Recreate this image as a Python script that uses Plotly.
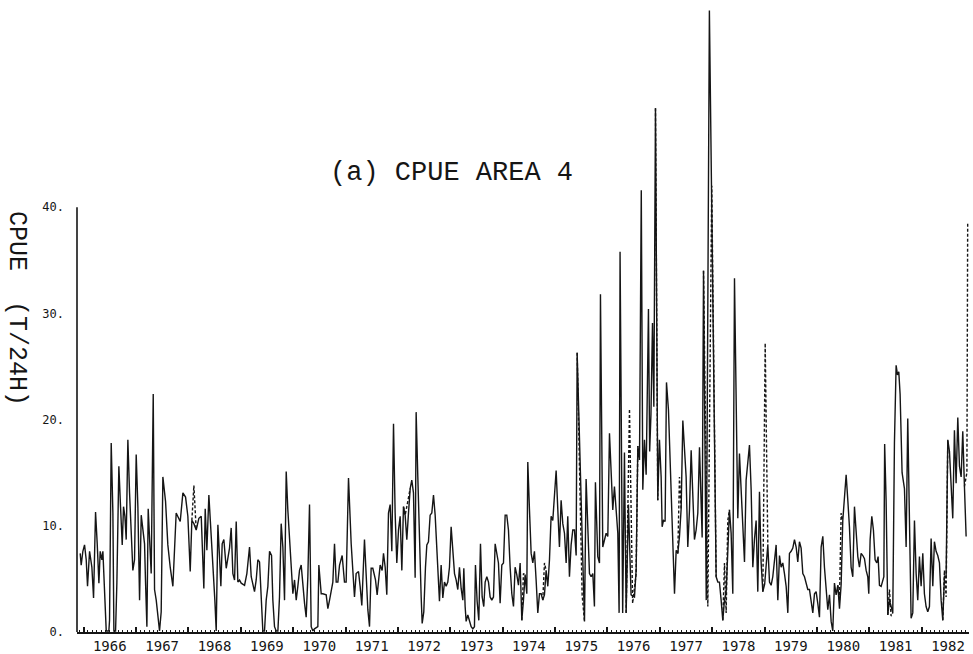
import plotly.graph_objects as go

# Catch per unit effort, area 4: observed series (solid line)
t_solid = [
    1965.936, 1965.955, 1965.987, 1966.019, 1966.051, 1966.076, 1966.115, 1966.159, 1966.191, 1966.229,
    1966.261, 1966.293, 1966.318, 1966.350, 1966.369, 1966.401, 1966.433, 1966.483, 1966.496, 1966.528,
    1966.560, 1966.579, 1966.611, 1966.636, 1966.674, 1966.706, 1966.738, 1966.763, 1966.789, 1966.814,
    1966.846, 1966.878, 1966.910, 1966.941, 1966.973, 1967.005, 1967.037, 1967.069, 1967.101, 1967.132,
    1967.164, 1967.183, 1967.209, 1967.234, 1967.260, 1967.291, 1967.330, 1967.355, 1967.387, 1967.450,
    1967.482, 1967.514, 1967.565, 1967.609, 1967.654, 1967.705, 1967.768, 1967.845, 1967.896, 1967.947,
    1967.991, 1968.036, 1968.067, 1968.106, 1968.150, 1968.201, 1968.246, 1968.277, 1968.296, 1968.322,
    1968.354, 1968.392, 1968.436, 1968.481, 1968.506, 1968.532, 1968.564, 1968.595, 1968.621, 1968.646,
    1968.678, 1968.723, 1968.754, 1968.786, 1968.818, 1968.850, 1968.882, 1968.914, 1968.945, 1968.977,
    1969.009, 1969.073, 1969.117, 1969.168, 1969.200, 1969.232, 1969.263, 1969.295, 1969.327, 1969.359,
    1969.391, 1969.422, 1969.454, 1969.486, 1969.518, 1969.550, 1969.588, 1969.613, 1969.645, 1969.677,
    1969.709, 1969.740, 1969.772, 1969.804, 1969.836, 1969.868, 1969.899, 1969.931, 1969.963, 1969.995,
    1970.027, 1970.059, 1970.090, 1970.122, 1970.154, 1970.186, 1970.218, 1970.249, 1970.281, 1970.313,
    1970.345, 1970.377, 1970.408, 1970.472, 1970.491, 1970.536, 1970.567, 1970.631, 1970.663, 1970.695,
    1970.726, 1970.758, 1970.790, 1970.822, 1970.854, 1970.886, 1970.936, 1970.980, 1971.012, 1971.057,
    1971.108, 1971.171, 1971.203, 1971.248, 1971.279, 1971.311, 1971.362, 1971.394, 1971.426, 1971.458,
    1971.489, 1971.521, 1971.572, 1971.604, 1971.636, 1971.661, 1971.699, 1971.725, 1971.757, 1971.788,
    1971.820, 1971.852, 1971.884, 1971.916, 1971.947, 1971.979, 1972.011, 1972.043, 1972.075, 1972.106,
    1972.138, 1972.170, 1972.202, 1972.234, 1972.265, 1972.297, 1972.329, 1972.348, 1972.380, 1972.412,
    1972.444, 1972.463, 1972.494, 1972.526, 1972.552, 1972.583, 1972.615, 1972.647, 1972.679, 1972.711,
    1972.743, 1972.774, 1972.793, 1972.825, 1972.857, 1972.889, 1972.921, 1972.952, 1972.984, 1973.016,
    1973.048, 1973.080, 1973.111, 1973.143, 1973.175, 1973.207, 1973.239, 1973.258, 1973.283, 1973.302,
    1973.334, 1973.366, 1973.398, 1973.430, 1973.461, 1973.480, 1973.512, 1973.544, 1973.576, 1973.608,
    1973.639, 1973.665, 1973.697, 1973.729, 1973.760, 1973.792, 1973.824, 1973.856, 1973.888, 1973.919,
    1973.951, 1973.983, 1974.015, 1974.047, 1974.078, 1974.110, 1974.142, 1974.174, 1974.206, 1974.237,
    1974.269, 1974.301, 1974.333, 1974.365, 1974.396, 1974.428, 1974.460, 1974.479, 1974.511, 1974.543,
    1974.575, 1974.606, 1974.638, 1974.670, 1974.702, 1974.734, 1974.765, 1974.797, 1974.829, 1974.861,
    1974.893, 1974.924, 1974.956, 1974.988, 1975.020, 1975.052, 1975.083, 1975.115, 1975.147, 1975.179,
    1975.211, 1975.242, 1975.274, 1975.306, 1975.338, 1975.370, 1975.402, 1975.421, 1975.561, 1975.592,
    1975.624, 1975.656, 1975.688, 1975.720, 1975.751, 1975.770, 1975.815, 1975.847, 1975.866, 1975.910,
    1975.974, 1976.006, 1976.038, 1976.069, 1976.101, 1976.133, 1976.165, 1976.197, 1976.222, 1976.240,
    1976.290, 1976.324, 1976.356, 1976.400, 1976.450, 1976.515, 1976.547, 1976.579, 1976.611, 1976.645,
    1976.674, 1976.706, 1976.738, 1976.782, 1976.805, 1976.830, 1976.859, 1976.885, 1976.916, 1976.945,
    1976.960, 1976.992, 1977.024, 1977.043, 1977.069, 1977.100, 1977.126, 1977.164, 1977.183, 1977.215,
    1977.247, 1977.279, 1977.311, 1977.342, 1977.374, 1977.406, 1977.438, 1977.470, 1977.501, 1977.533,
    1977.565, 1977.597, 1977.628, 1977.660, 1977.692, 1977.724, 1977.756, 1977.788, 1977.807, 1977.833,
    1977.885, 1977.945, 1978.074, 1978.106, 1978.137, 1978.169, 1978.201, 1978.233, 1978.265, 1978.296,
    1978.328, 1978.360, 1978.392, 1978.424, 1978.455, 1978.487, 1978.519, 1978.551, 1978.583, 1978.615,
    1978.646, 1978.678, 1978.710, 1978.742, 1978.774, 1978.805, 1978.837, 1978.869, 1978.901, 1978.933,
    1978.965, 1979.000, 1979.060, 1979.092, 1979.123, 1979.155, 1979.187, 1979.219, 1979.251, 1979.283,
    1979.314, 1979.346, 1979.378, 1979.410, 1979.442, 1979.473, 1979.505, 1979.537, 1979.569, 1979.601,
    1979.632, 1979.664, 1979.696, 1979.728, 1979.760, 1979.791, 1979.823, 1979.855, 1979.887, 1979.919,
    1979.951, 1979.982, 1980.014, 1980.046, 1980.078, 1980.110, 1980.141, 1980.173, 1980.205, 1980.237,
    1980.269, 1980.300, 1980.332, 1980.364, 1980.396, 1980.428, 1980.460, 1980.491, 1980.523, 1980.555,
    1980.587, 1980.618, 1980.650, 1980.682, 1980.714, 1980.746, 1980.778, 1980.809, 1980.841, 1980.873,
    1980.905, 1980.937, 1980.968, 1980.987, 1981.013, 1981.045, 1981.076, 1981.108, 1981.140, 1981.165,
    1981.191, 1981.223, 1981.255, 1981.275, 1981.290, 1981.318, 1981.350, 1981.382, 1981.413, 1981.445,
    1981.477, 1981.509, 1981.535, 1981.560, 1981.585, 1981.623, 1981.668, 1981.700, 1981.731, 1981.763,
    1981.795, 1981.827, 1981.859, 1981.891, 1981.922, 1981.954, 1981.986, 1982.018, 1982.049, 1982.081,
    1982.113, 1982.145, 1982.177, 1982.209, 1982.240, 1982.272, 1982.304, 1982.336, 1982.368, 1982.400,
    1982.431, 1982.463, 1982.495, 1982.527, 1982.559, 1982.590, 1982.622, 1982.654, 1982.686, 1982.718,
    1982.750, 1982.781, 1982.813, 1982.845,
]
cpue_solid = [
    7.4, 6.3, 7.6, 8.2, 6.8, 4.3, 7.6, 6.1, 3.2, 11.3,
    8.3, 4.6, 7.6, 6.8, 7.6, 3.0, 0.1, 0.1, 1.1, 17.8,
    11.2, 0.1, 0.1, 4.6, 15.6, 11.8, 8.2, 11.8, 10.9, 8.7,
    18.1, 13.1, 9.3, 5.8, 6.8, 16.7, 11.8, 3.0, 11.0, 9.3,
    8.3, 4.7, 0.5, 11.6, 8.0, 5.5, 22.4, 4.0, 3.0, 0.1,
    1.9, 14.6, 12.3, 8.2, 6.1, 4.3, 11.2, 10.4, 13.1, 12.7,
    10.9, 5.7, 10.5, 10.2, 9.6, 10.7, 10.9, 7.4, 4.1, 11.6,
    7.7, 12.9, 9.3, 4.9, 3.0, 0.1, 10.1, 7.1, 4.3, 8.3,
    8.7, 6.0, 6.8, 7.9, 9.8, 5.5, 4.9, 10.4, 4.7, 4.9,
    4.6, 4.4, 5.5, 8.0, 5.2, 4.3, 3.8, 4.9, 6.8, 6.6,
    3.0, 0.1, 0.1, 3.0, 4.3, 7.6, 7.2, 3.0, 0.5, 0.1,
    0.1, 3.3, 10.2, 8.0, 3.0, 15.1, 11.5, 8.7, 6.1, 3.6,
    4.9, 3.0, 4.3, 5.8, 6.3, 4.3, 2.7, 1.4, 5.2, 12.0,
    0.5, 0.1, 0.3, 0.5, 6.3, 3.6, 3.6, 3.5, 2.2, 3.0,
    4.0, 4.7, 8.3, 4.7, 4.7, 6.3, 7.2, 4.7, 4.7, 14.5,
    8.3, 3.3, 5.5, 5.7, 4.3, 2.5, 8.7, 5.5, 2.1, 0.5,
    6.0, 6.0, 4.9, 3.5, 4.9, 6.3, 5.8, 7.4, 6.1, 3.5,
    11.2, 12.0, 7.6, 19.6, 11.2, 6.5, 9.6, 10.9, 5.8, 11.8,
    11.0, 8.7, 11.2, 13.5, 14.3, 13.1, 5.1, 20.7, 14.6, 8.0,
    3.3, 0.8, 1.9, 6.1, 8.2, 8.5, 11.0, 11.2, 12.9, 11.0,
    7.7, 4.7, 2.9, 6.3, 3.2, 4.7, 4.3, 4.7, 6.1, 9.9,
    7.7, 5.5, 4.9, 4.0, 6.1, 4.1, 3.0, 6.0, 2.4, 1.0,
    1.6, 1.0, 0.5, 0.3, 0.5, 6.3, 2.9, 1.1, 8.3, 3.3,
    2.4, 4.7, 5.2, 4.7, 3.3, 3.0, 3.3, 8.3, 7.4, 6.5,
    2.7, 6.3, 6.5, 11.0, 11.0, 9.6, 6.1, 3.6, 2.4, 6.1,
    5.4, 4.4, 6.5, 1.1, 3.0, 5.4, 3.6, 16.0, 11.5, 7.4,
    6.5, 7.6, 4.9, 1.8, 3.6, 3.6, 3.0, 3.5, 5.8, 4.3,
    6.8, 10.9, 10.5, 13.4, 15.2, 11.5, 8.0, 12.4, 10.2, 9.3,
    6.5, 10.9, 5.2, 8.2, 9.6, 9.6, 7.2, 26.3, 1.0, 14.4,
    9.3, 5.5, 5.2, 5.5, 2.4, 14.1, 7.1, 6.5, 31.8, 8.0,
    9.3, 9.0, 18.7, 14.6, 11.5, 13.7, 11.5, 9.3, 1.8, 35.8,
    1.8, 16.9, 1.8, 12.0, 3.5, 3.3, 5.8, 17.5, 16.2, 41.6,
    13.4, 18.1, 14.8, 30.4, 17.0, 20.5, 29.1, 21.2, 49.3, 20.0,
    12.4, 18.1, 14.6, 9.9, 10.5, 10.4, 23.5, 20.9, 17.8, 14.3,
    7.4, 3.6, 7.7, 7.4, 9.0, 11.6, 19.9, 16.5, 14.6, 8.0,
    11.5, 17.1, 12.7, 8.7, 9.6, 11.2, 17.4, 12.4, 8.9, 34.0,
    3.0, 58.5, 5.2, 4.7, 4.7, 3.0, 1.1, 3.0, 3.8, 7.5,
    11.5, 9.3, 3.6, 33.3, 19.9, 10.7, 16.8, 13.7, 10.9, 6.6,
    14.3, 16.3, 17.6, 13.4, 6.1, 8.7, 10.5, 3.8, 13.2, 6.5,
    3.8, 4.5, 8.2, 4.7, 4.4, 5.2, 6.6, 8.2, 3.0, 7.2,
    6.1, 6.5, 5.5, 4.3, 1.8, 7.4, 7.6, 7.9, 8.7, 8.0,
    6.6, 8.5, 7.9, 5.5, 5.2, 4.7, 4.0, 4.0, 2.9, 1.8,
    3.6, 3.8, 2.7, 1.4, 8.0, 9.0, 6.1, 3.6, 2.1, 3.5,
    1.0, 0.1, 4.6, 3.5, 4.4, 2.2, 4.5, 10.5, 12.7, 14.8,
    12.4, 9.9, 6.1, 5.2, 11.8, 9.3, 7.1, 6.1, 7.4, 7.2,
    6.9, 5.8, 5.2, 3.6, 8.7, 10.9, 9.6, 6.8, 6.5, 7.1,
    4.4, 4.3, 4.9, 5.2, 17.7, 12.4, 1.6, 3.0, 2.4, 1.8,
    17.8, 25.1, 24.2, 24.5, 22.4, 15.0, 13.5, 8.0, 20.1, 12.4,
    1.3, 1.8, 10.5, 5.5, 3.0, 7.1, 4.3, 7.4, 3.6, 2.4,
    1.9, 2.4, 8.8, 4.3, 8.5, 7.6, 7.2, 6.5, 3.0, 1.1,
    5.2, 5.2, 18.1, 17.0, 14.0, 10.7, 19.0, 14.0, 20.2, 15.6,
    14.6, 18.9, 13.7, 9.0,
]

# Second series (dotted line): drawn where it departs from the solid one
t_dotted = [
    1968.067, 1968.106, 1968.150, None,
    1972.106, 1972.138, 1972.170, 1972.202, 1972.234, None,
    1974.365, 1974.396, 1974.428, None,
    1974.765, 1974.797, 1974.829, None,
    1975.421, 1975.516, 1975.561, None,
    1976.356, 1976.420, 1976.480, 1976.515, 1976.547, 1976.579, None,
    1976.916, 1976.945, 1976.960, None,
    1977.342, 1977.374, 1977.406, None,
    1977.833, 1977.915, 1977.990, 1978.074, None,
    1978.201, 1978.233, 1978.265, 1978.296, 1978.328, None,
    1978.965, 1979.010, 1979.060, None,
    1980.396, 1980.428, 1980.460, 1980.491, None,
    1981.350, 1981.382, 1981.413, 1981.445, None,
    1982.400, 1982.431, 1982.463, 1982.495, None,
    1982.813, 1982.860, 1982.875,
]
cpue_dotted = [
    10.5, 13.8, 9.6, None,
    11.8, 11.0, 11.8, 12.7, 13.5, None,
    1.1, 5.5, 5.4, None,
    3.0, 6.5, 5.8, None,
    26.3, 3.5, 1.0, None,
    1.8, 21.0, 2.7, 4.3, 5.5, 17.5, None,
    49.3, 26.0, 12.4, None,
    7.4, 14.6, 11.6, None,
    34.0, 2.4, 42.0, 5.2, None,
    1.1, 6.5, 1.8, 10.5, 11.5, None,
    3.8, 27.2, 8.2, None,
    4.4, 3.0, 11.2, 10.5, None,
    1.6, 4.0, 1.5, 1.8, None,
    1.1, 5.8, 3.3, 18.1, None,
    13.7, 15.0, 38.5,
]

years = list(range(1966, 1983))
year_labels = [str(y) for y in years]
y_tick_values = [0, 10, 20, 30, 40]
y_tick_text = ["0.", "10.", "20.", "30.", "40."]

INK = "#151515"
FONT = "DejaVu Sans Mono"
TITLE_FONT = "Liberation Mono"
X_RANGE = [1965.875, 1982.90]

fig = go.Figure()
fig.add_trace(go.Scatter(
    x=t_solid, y=cpue_solid, mode="lines",
    line=dict(color=INK, width=1.4), hoverinfo="skip",
))
fig.add_trace(go.Scatter(
    x=t_dotted, y=cpue_dotted, mode="lines", xaxis="x2",
    line=dict(color=INK, width=1.4, dash="3px,2px"),
    connectgaps=False, hoverinfo="skip",
))

fig.update_layout(
    width=973, height=654,
    margin=dict(l=77, r=4, t=0, b=22),
    paper_bgcolor="white", plot_bgcolor="white",
    showlegend=False,
    xaxis=dict(
        range=X_RANGE, showgrid=False, zeroline=False,
        showline=True, linecolor=INK, linewidth=2,
        tickmode="array", tickvals=[y + 0.5 for y in years], ticktext=year_labels,
        ticks="", tickfont=dict(family=FONT, size=14, color=INK),
        minor=dict(tickmode="array", tickvals=years, ticks="inside",
                   ticklen=5, tickwidth=1.5, tickcolor=INK),
        automargin=False,
    ),
    xaxis2=dict(
        range=X_RANGE, overlaying="x", anchor="y", side="bottom",
        showgrid=False, zeroline=False, showline=False,
        showticklabels=False, ticks="inside", tick0=1966, dtick=1 / 12,
        ticklen=2, tickwidth=1, tickcolor=INK,
    ),
    yaxis=dict(
        range=[0, 59.5], showgrid=False, zeroline=False, showline=False,
        tickmode="array", tickvals=y_tick_values, ticktext=y_tick_text,
        ticks="", ticklabelstandoff=12,
        tickfont=dict(family=FONT, size=12, color=INK),
        automargin=False,
    ),
    shapes=[dict(type="line", xref="paper", x0=0, x1=0, yref="y", y0=0, y1=40,
                 line=dict(color=INK, width=1.6))],
    annotations=[
        dict(text="(a) CPUE AREA 4", xref="paper", yref="paper",
             x=(451 - 77) / 892, y=(632 - 173) / 632, showarrow=False,
             xanchor="center", yanchor="middle",
             font=dict(family=TITLE_FONT, size=27, color=INK)),
        dict(text="CPUE  (T/24H)", xref="paper", yref="paper",
             x=(17 - 77) / 892, y=(632 - 308) / 632, showarrow=False,
             xanchor="center", yanchor="middle", textangle=90,
             font=dict(family=TITLE_FONT, size=25, color=INK)),
    ],
)

fig.write_html("out.html")
